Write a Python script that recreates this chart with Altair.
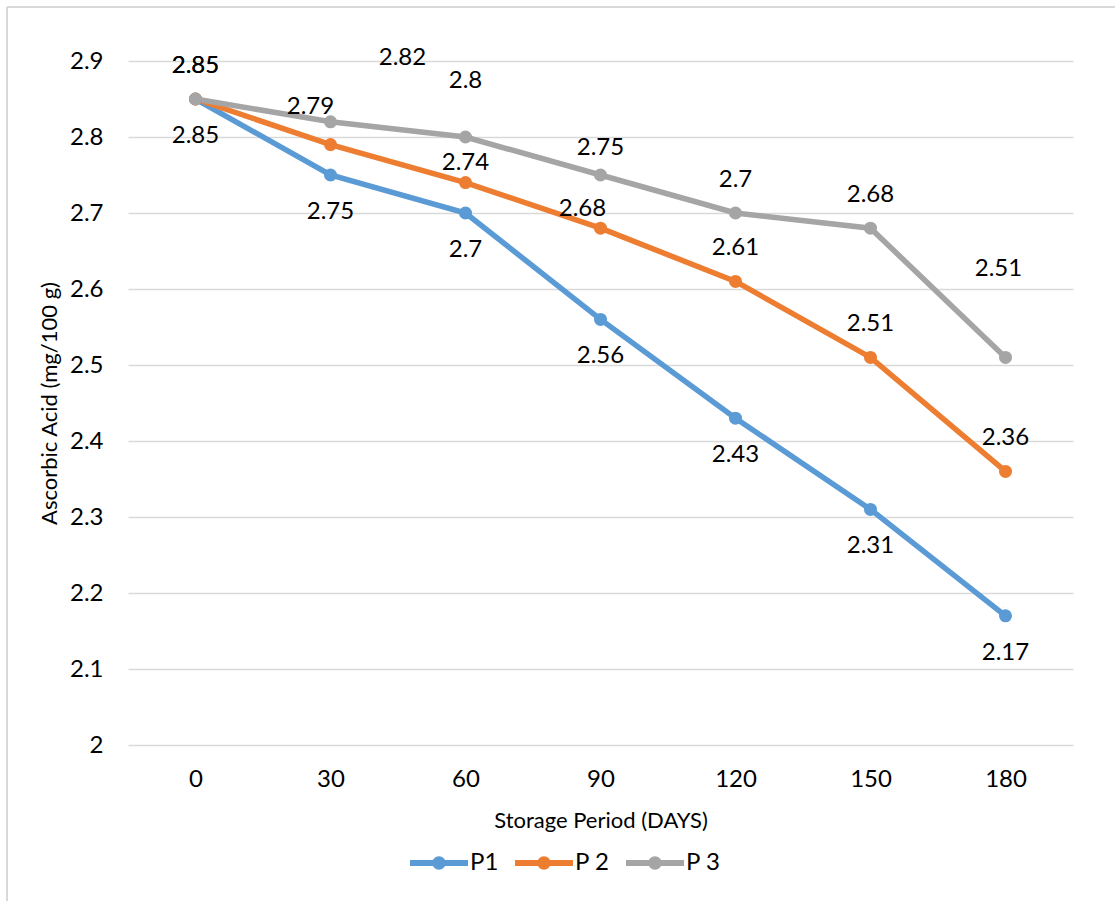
import altair as alt
import pandas as pd

days = ["0", "30", "60", "90", "120", "150", "180"]
p1 = [2.85, 2.75, 2.70, 2.56, 2.43, 2.31, 2.17]
p2 = [2.85, 2.79, 2.74, 2.68, 2.61, 2.51, 2.36]
p3 = [2.85, 2.82, 2.80, 2.75, 2.70, 2.68, 2.51]
series = ["P1", "P 2", "P 3"]
colors = ["#5B9BD5", "#ED7D31", "#A5A5A5"]
y_ticks = [2.0, 2.1, 2.2, 2.3, 2.4, 2.5, 2.6, 2.7, 2.8, 2.9]

rows = []
for name, vals in zip(series, [p1, p2, p3]):
    for d, v in zip(days, vals):
        rows.append({"day": d, "series": name, "value": v})
df = pd.DataFrame(rows)

FONT = "Lato"

x_enc = alt.X("day:O", sort=days, title="Storage Period (DAYS)",
              scale=alt.Scale(type="point", padding=0.5),
              axis=alt.Axis(labelAngle=0, domain=False, ticks=False, grid=False,
                            labelPadding=22, titlePadding=19))
y_enc = alt.Y("value:Q", title="Ascorbic Acid (mg/100 g)",
              scale=alt.Scale(domain=[2.0, 2.9], nice=False, zero=False),
              axis=alt.Axis(values=y_ticks, format=".1~f", domain=False, ticks=False,
                            grid=True, gridColor="#D9D9D9", gridWidth=1.5,
                            labelPadding=25, titlePadding=8))
color_scale = alt.Scale(domain=series, range=colors)

base = alt.Chart(df)

legend_path = ("M-1,-0.1 L1,-0.1 L1,0.1 L-1,0.1 Z "
               "M0.23,0 A0.23,0.23 0 1,1 -0.23,0 A0.23,0.23 0 1,1 0.23,0 Z")

legend = alt.Legend(orient="none", legendX=282, legendY=773,
                    direction="horizontal", symbolType=legend_path,
                    symbolSize=3364, symbolStrokeWidth=0,
                    labelFont=FONT, labelFontSize=24,
                    labelColor="#000000", labelOffset=2,
                    columnPadding=16, padding=0, title=None)
color_enc = alt.Color("series:N", scale=color_scale, sort=series, title=None, legend=legend)

lines = base.mark_line(strokeWidth=5.5).encode(x=x_enc, y=y_enc, color=color_enc)
points = base.mark_circle(size=170, opacity=1).encode(x=x_enc, y=y_enc, color=color_enc)

default_off = {"P1": (0, 37), "P 2": (0, -33), "P 3": (0, -33)}
nudges = {
    ("P 2", "30"): (-20, -38),
    ("P 2", "60"): (0, -20),
    ("P 2", "90"): (-18, -19),
    ("P 3", "30"): (72, -64),
    ("P 3", "60"): (0, -56),
    ("P 3", "90"): (0, -27),
    ("P 3", "180"): (-7, -88),
}

text_layers = []
for s in series:
    skip = [d for (ss, d) in nudges if ss == s]
    dx, dy = default_off[s]
    t = base.mark_text(font=FONT, fontSize=24, color="#000000", baseline="middle",
                       align="center", dx=dx, dy=dy).encode(
        x=x_enc, y=y_enc, text=alt.Text("value:Q", format=".2~f")
    ).transform_filter(alt.datum.series == s)
    if skip:
        t = t.transform_filter(~alt.FieldOneOfPredicate(field="day", oneOf=skip))
    text_layers.append(t)
for (s, d), (dx, dy) in nudges.items():
    t = base.mark_text(font=FONT, fontSize=24, color="#000000", baseline="middle",
                       align="center", dx=dx, dy=dy).encode(
        x=x_enc, y=y_enc, text=alt.Text("value:Q", format=".2~f")
    ).transform_filter((alt.datum.series == s) & (alt.datum.day == d))
    text_layers.append(t)

frame_df = pd.DataFrame({"k": [0]})
frame_top = alt.Chart(frame_df).mark_rule(color="#D9D9D9", strokeWidth=2).encode(
    x=alt.value(-121), x2=alt.value(1200), y=alt.value(-54))
frame_left = alt.Chart(frame_df).mark_rule(color="#D9D9D9", strokeWidth=2).encode(
    x=alt.value(-121), y=alt.value(-54), y2=alt.value(900))

chart = alt.layer(frame_top, frame_left, lines, points, *text_layers).properties(
    width=945, height=684,
    background="white",
    autosize=alt.AutoSizeParams(type="none"),
    padding={"left": 128, "top": 61, "right": 42, "bottom": 156},
).configure_view(stroke=None).configure_axis(
    labelFont=FONT, labelFontSize=24, labelColor="#000000",
    titleFont=FONT, titleFontSize=22, titleColor="#000000", titleFontWeight="normal",
)

chart.save("out.html", embed_options={"renderer": "svg", "actions": False})
